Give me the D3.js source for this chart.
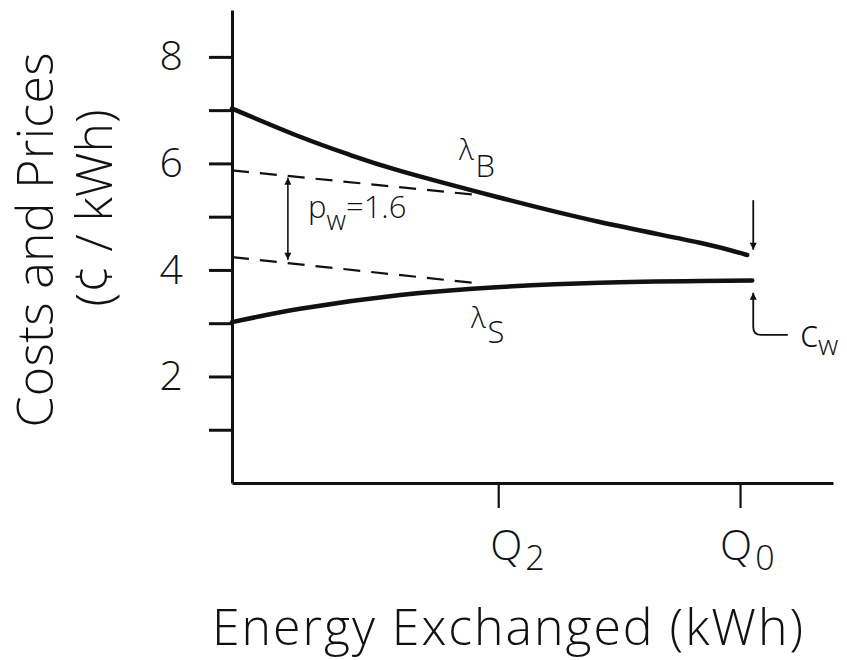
<!DOCTYPE html>
<html><head><meta charset="utf-8">
<script src="https://cdn.jsdelivr.net/npm/d3@7"></script>
<style>body{margin:0;background:#fff}svg{display:block}</style>
</head><body>
<script>
// ---- data (x in units of Q0, y in cents/kWh) ----
const lambdaBX = [0, 0.134, 0.232, 0.331, 0.522, 0.724, 0.921, 1.014];
const lambdaBY = [7.03, 6.50, 6.16, 5.86, 5.37, 4.90, 4.51, 4.28];
const lambdaSX = [0, 0.134, 0.331, 0.528, 0.724, 0.921, 1.024];
const lambdaSY = [3.02, 3.27, 3.53, 3.68, 3.76, 3.79, 3.80];
const upperDashX = [0, 0.49];
const upperDashY = [5.87, 5.40];
const lowerDashX = [0, 0.472];
const lowerDashY = [4.24, 3.76];
const yTicks = [1, 2, 3, 4, 5, 6, 7, 8];
const yTickLabels = ["", "2", "", "4", "", "6", "", "8"];
const xTicks = [0.524, 1.0];
const xTickLabels = ["Q", "Q"];
const xTickSubs = ["2", "0"];
const pwValue = "1.6";
const pwArrowX = 0.11, pwArrowTop = 5.73, pwArrowBottom = 4.19;
const cwDownX = 1.026, cwDownFrom = 5.31, cwDownTo = 4.38;
const cwUpTo = 3.57, cwUpFrom = 2.78, cwLabelX = 1.094;

const W = 847, H = 660;
const svg = d3.select("body").append("svg").attr("width", W).attr("height", H);
const FONT = "'Open Sans', 'DejaVu Sans', sans-serif";
const ink = "#111";

const x = d3.scaleLinear().domain([0, 1.183]).range([232, 833]);
const y = d3.scaleLinear().domain([0, 8.88]).range([483, 10]);

// marker defs
const defs = svg.append("defs");
function marker(id, w, h) {
  defs.append("marker").attr("id", id).attr("viewBox", "0 0 10 10")
    .attr("refX", 10).attr("refY", 5).attr("markerWidth", w).attr("markerHeight", h)
    .attr("markerUnits", "userSpaceOnUse").attr("orient", "auto-start-reverse")
    .append("path").attr("d", "M0,0 L10,5 L0,10 Z").attr("fill", ink);
}
marker("ah", 13, 7);

// axes
const yAxis = d3.axisLeft(y).tickValues(yTicks).tickSize(23).tickSizeOuter(0).tickPadding(26)
  .tickFormat((d, i) => yTickLabels[i]);
const gy = svg.append("g").attr("transform", `translate(${x(0)},0)`).call(yAxis);
gy.select(".domain").attr("stroke", ink).attr("stroke-width", 3);
gy.selectAll(".tick line").attr("stroke", ink).attr("stroke-width", 3);
gy.selectAll(".tick text").attr("font-family", FONT).attr("font-size", 41).attr("font-weight", 300).attr("fill", ink);

const xAxis = d3.axisBottom(x).tickValues(xTicks).tickSize(25).tickSizeOuter(0).tickFormat("");
const gx = svg.append("g").attr("transform", `translate(0,${y(0)})`).call(xAxis);
gx.select(".domain").attr("stroke", ink).attr("stroke-width", 3);
gx.selectAll(".tick line").attr("stroke", ink).attr("stroke-width", 2.2);
const qOffsets = [-8, -20];
xTicks.forEach((t, i) => {
  const tx = svg.append("text").attr("x", x(t) + qOffsets[i]).attr("y", 560)
    .attr("font-family", FONT).attr("font-size", 42).attr("font-weight", 300).attr("fill", ink);
  tx.append("tspan").text(xTickLabels[i]);
  tx.append("tspan").attr("dx", 3).attr("dy", 10).attr("font-size", 34).text(xTickSubs[i]);
});

// curves
const line = d3.line().x(d => x(d[0])).y(d => y(d[1])).curve(d3.curveNatural);
const zip = (a, b) => a.map((v, i) => [v, b[i]]);
svg.append("path").attr("d", line(zip(lambdaBX, lambdaBY))).attr("fill", "none")
  .attr("stroke", ink).attr("stroke-width", 4.5).attr("stroke-linecap", "round");
svg.append("path").attr("d", line(zip(lambdaSX, lambdaSY))).attr("fill", "none")
  .attr("stroke", ink).attr("stroke-width", 4.5).attr("stroke-linecap", "round");
const straight = d3.line().x(d => x(d[0])).y(d => y(d[1]));
[[upperDashX, upperDashY], [lowerDashX, lowerDashY]].forEach(([a, b]) => {
  svg.append("path").attr("d", straight(zip(a, b))).attr("fill", "none")
    .attr("stroke", ink).attr("stroke-width", 2.2).attr("stroke-dasharray", "17,11");
});

// pw double arrow
svg.append("line").attr("x1", x(pwArrowX)).attr("x2", x(pwArrowX))
  .attr("y1", y(pwArrowTop)).attr("y2", y(pwArrowBottom))
  .attr("stroke", ink).attr("stroke-width", 1.6)
  .attr("marker-start", "url(#ah)").attr("marker-end", "url(#ah)");
const pwT = svg.append("text").attr("x", 308).attr("y", 218)
  .attr("font-family", FONT).attr("font-size", 31).attr("font-weight", 300).attr("fill", ink);
pwT.append("tspan").text("p");
pwT.append("tspan").attr("dy", 12).attr("font-size", 27).text("w");
pwT.append("tspan").attr("dy", -12).text("=" + pwValue);

// lambda labels
function lam(xp, yp, sub, subDy) {
  const t = svg.append("text").attr("x", xp).attr("y", yp)
    .attr("font-family", FONT).attr("font-size", 29).attr("font-weight", 300).attr("fill", ink);
  t.append("tspan").text("λ");
  t.append("tspan").attr("dx", 2).attr("dy", subDy).attr("font-size", 31).text(sub);
}
lam(459, 160, "B", 17);
lam(471, 328, "S", 15);

// c_w arrows
svg.append("line").attr("x1", x(cwDownX)).attr("x2", x(cwDownX))
  .attr("y1", y(cwDownFrom)).attr("y2", y(cwDownTo))
  .attr("stroke", ink).attr("stroke-width", 1.8).attr("marker-end", "url(#ah)");
const cx = x(cwDownX), cyTop = y(cwUpTo), cyBot = y(cwUpFrom), cxEnd = x(cwLabelX);
svg.append("path")
  .attr("d", `M${cxEnd},${cyBot} L${cx + 8},${cyBot} Q${cx},${cyBot} ${cx},${cyBot - 8} L${cx},${cyTop}`)
  .attr("fill", "none").attr("stroke", ink).attr("stroke-width", 1.8).attr("marker-end", "url(#ah)");
const cw = svg.append("text").attr("x", 800).attr("y", 347)
  .attr("font-family", FONT).attr("font-size", 38).attr("font-weight", 300).attr("fill", ink);
cw.append("tspan").text("c");
cw.append("tspan").attr("dy", 8).attr("font-size", 28).text("w");

// axis titles
svg.append("text").attr("x", 212).attr("y", 645).attr("textLength", 591).attr("lengthAdjust", "spacing")
  .attr("font-family", FONT).attr("font-size", 50).attr("font-weight", 300).attr("fill", ink)
  .text("Energy Exchanged (kWh)");
svg.append("text").attr("transform", "translate(53,240) rotate(-90)").attr("text-anchor", "middle")
  .attr("textLength", 375).attr("lengthAdjust", "spacing")
  .attr("font-family", FONT).attr("font-size", 50).attr("font-weight", 300).attr("fill", ink)
  .text("Costs and Prices");
svg.append("text").attr("transform", "translate(112,208) rotate(-90)").attr("text-anchor", "middle")
  .attr("font-family", FONT).attr("font-size", 50).attr("font-weight", 300).attr("fill", ink)
  .text("(¢ / kWh)");
</script>
</body></html>
